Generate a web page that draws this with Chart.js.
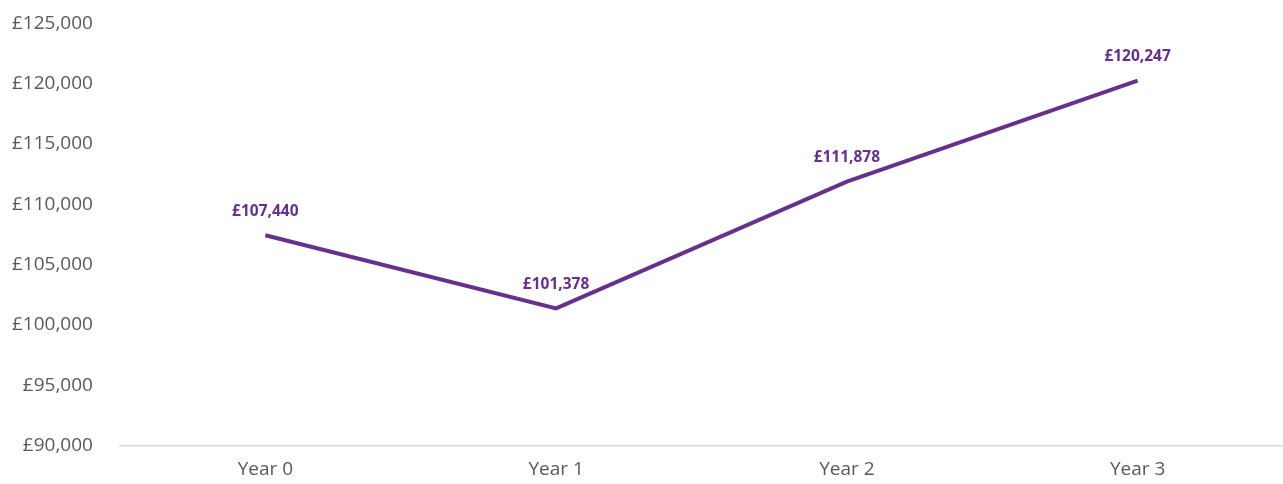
<!DOCTYPE html>
<html lang="en">
<head>
    <meta charset="UTF-8">
    <title>Income by Year</title>
    <script src="https://cdn.jsdelivr.net/npm/chart.js@4/dist/chart.umd.min.js"></script>
    <style>
        html, body { margin: 0; padding: 0; background: #fff; overflow: hidden; }
        /* canvas is a bit taller than the page and pulled up, to trim the top gap */
        #wrap { width: 1283px; height: 499px; margin-top: -15px; position: relative; }
    </style>
</head>
<body>
    <div id="wrap"><canvas id="incomeChart"></canvas></div>

    <script>
        // data
        var years = ['Year 0', 'Year 1', 'Year 2', 'Year 3'];
        var income = [107440, 101378, 111878, 120247];
        var yMin = 90000, yMax = 125000, yStep = 5000;

        var purple = '#65318a';
        var fontFamily = "'Open Sans', 'Liberation Sans', sans-serif";

        function pounds(v) {
            return '£' + v.toLocaleString('en-GB');
        }

        // draw value labels above each point
        var pointLabels = {
            id: 'pointLabels',
            afterDatasetsDraw: function (chart) {
                var ctx = chart.ctx;
                var meta = chart.getDatasetMeta(0);
                ctx.save();
                ctx.font = 'bold 15.5px ' + fontFamily;
                ctx.fillStyle = purple;
                ctx.textAlign = 'center';
                ctx.textBaseline = 'middle';
                meta.data.forEach(function (pt, i) {
                    ctx.fillText(pounds(income[i]), pt.x, pt.y - 24);
                });
                ctx.restore();
            }
        };

        var ctx = document.getElementById('incomeChart').getContext('2d');
        var chart = new Chart(ctx, {
            type: 'line',
            data: {
                labels: years,
                datasets: [{
                    data: income,
                    borderColor: purple,
                    borderWidth: 4,
                    pointRadius: 0,
                    tension: 0,
                    fill: false
                }]
            },
            options: {
                responsive: true,
                maintainAspectRatio: false,
                animation: false,
                layout: { padding: { top: 0, right: 0, left: -15, bottom: -11 } },
                plugins: {
                    legend: { display: false },
                    tooltip: { enabled: false }
                },
                scales: {
                    x: {
                        offset: true,
                        grid: { display: false, drawTicks: false },
                        border: { display: true, color: '#d9d9d9', width: 1.5 },
                        ticks: {
                            color: '#595959',
                            padding: 13,
                            font: { family: fontFamily, size: 19 }
                        }
                    },
                    y: {
                        min: yMin,
                        max: yMax,
                        grid: { display: false, drawTicks: false },
                        border: { display: false },
                        ticks: {
                            stepSize: yStep,
                            color: '#595959',
                            padding: 27,
                            font: { family: fontFamily, size: 19 },
                            callback: function (v) { return pounds(v); }
                        }
                    }
                }
            },
            plugins: [pointLabels]
        });
    </script>
</body>
</html>
